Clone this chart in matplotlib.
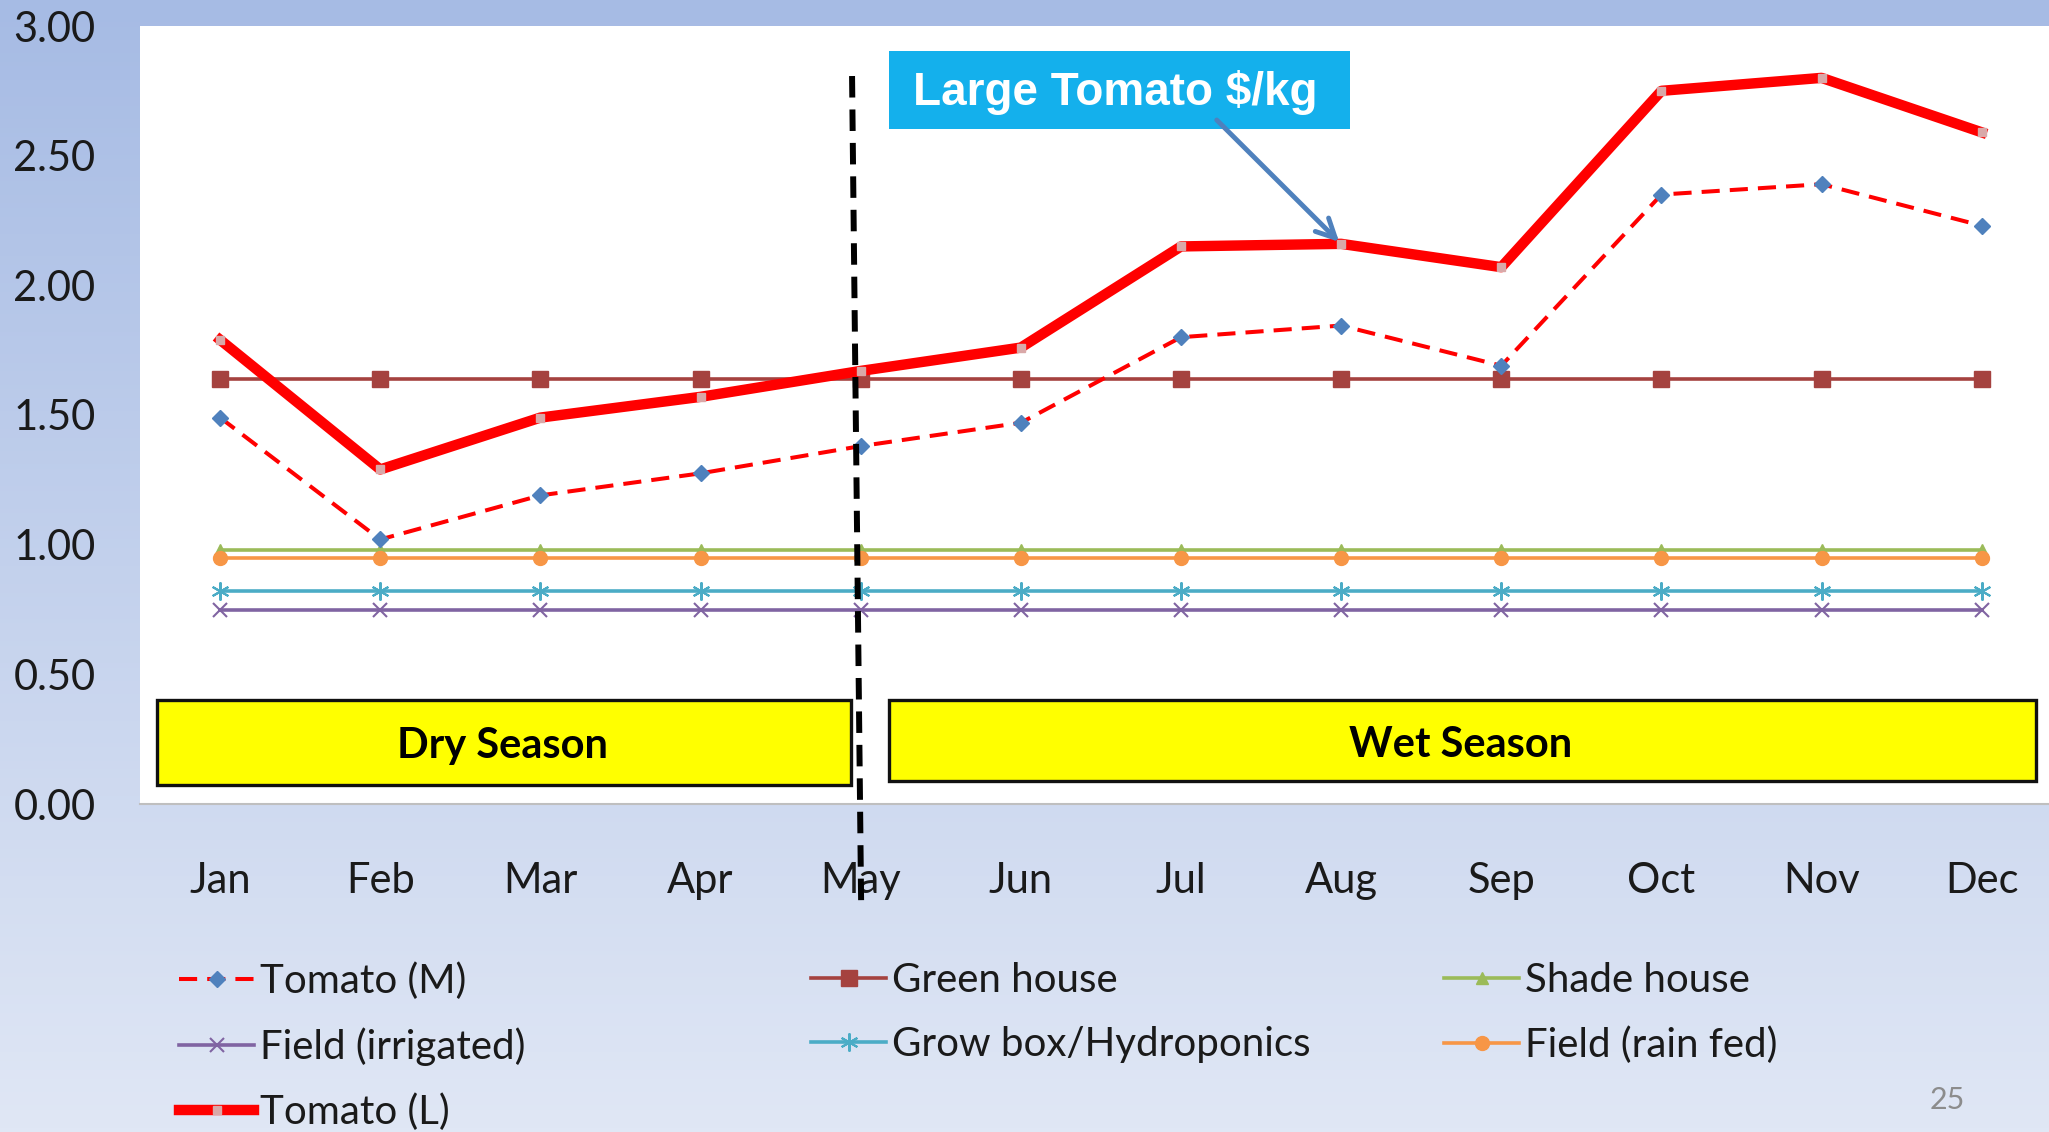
import numpy as np
import matplotlib
matplotlib.use("Agg")
import matplotlib.pyplot as plt
from matplotlib.patches import Rectangle
from matplotlib.lines import Line2D

plt.rcParams['font.family'] = ['Lato', 'DejaVu Sans']

months = ["Jan", "Feb", "Mar", "Apr", "May", "Jun", "Jul", "Aug", "Sep", "Oct", "Nov", "Dec"]
tomato_m = [1.49, 1.02, 1.19, 1.275, 1.38, 1.47, 1.80, 1.845, 1.69, 2.35, 2.39, 2.23]
tomato_l = [1.79, 1.29, 1.49, 1.57, 1.67, 1.76, 2.15, 2.16, 2.07, 2.75, 2.80, 2.59]
green_house = [1.64] * 12
shade_house = [0.98] * 12
field_rain_fed = [0.95] * 12
grow_box = [0.82] * 12
field_irrigated = [0.75] * 12
yticks = [0.0, 0.5, 1.0, 1.5, 2.0, 2.5, 3.0]

W, H = 2049, 1132
fig = plt.figure(figsize=(W / 100, H / 100), dpi=100)

# gradient background
bg = fig.add_axes([0, 0, 1, 1], zorder=-10)
top = np.array([166, 187, 228]) / 255
bot = np.array([224, 231, 245]) / 255
t = np.linspace(0, 1, 256)[:, None]
grad = (top[None, :] * (1 - t) + bot[None, :] * t)[:, None, :]
bg.imshow(grad, aspect='auto', extent=[0, 1, 0, 1])
bg.set_axis_off()

ax = fig.add_axes([140 / W, 1 - 804 / H, 1 - 140 / W, (804 - 26) / H])
ax.set_facecolor('white')
x = np.arange(len(months))

lw_h = 2.6
l_gh, = ax.plot(x, green_house, color='#a5423f', lw=lw_h, marker='s', ms=11, zorder=3)
l_sh, = ax.plot(x, shade_house, color='#9bbb59', lw=lw_h, marker='^', ms=9, zorder=3)
l_rf, = ax.plot(x, field_rain_fed, color='#f79646', lw=lw_h, marker='o', ms=10, zorder=3)
l_gb, = ax.plot(x, grow_box, color='#4bacc6', lw=lw_h, marker=(6, 2, 0), ms=13, mew=1.5, zorder=3)
l_fi, = ax.plot(x, field_irrigated, color='#8064a2', lw=lw_h, marker='x', ms=10, mew=1.5, zorder=3)
l_m, = ax.plot(x, tomato_m, color='#ff0000', lw=2.9, dashes=(4.5, 2.5), marker='D', ms=8.5,
               mfc='#4f81bd', mec='#4f81bd', zorder=4)
l_l, = ax.plot(x, tomato_l, color='#ff0000', lw=7.5, marker='s', ms=6,
               mfc='#d9a8a8', mec='#d9a8a8', zorder=5)

ax.set_xlim(-0.5, 11.42)
ax.set_ylim(0, 3.0)
ax.set_yticks(yticks)
ax.set_yticklabels([f"{v:.2f}" for v in yticks])
ax.set_xticks(x)
ax.set_xticklabels(months)
ax.tick_params(axis='y', length=0, pad=32, labelsize=30, labelcolor='#1a1a1a')
ax.tick_params(axis='x', length=0, pad=42, labelsize=30, labelcolor='#1a1a1a')
for s in ['top', 'right', 'left']:
    ax.spines[s].set_visible(False)
ax.spines['bottom'].set_color('#bfbfbf')
ax.spines['bottom'].set_linewidth(1.5)

# season boxes
ax.add_patch(Rectangle((0.0089, 0.0244), 0.3724 - 0.0089, 0.1337 - 0.0244, transform=ax.transAxes,
                       facecolor='#ffff00', edgecolor='#111111', lw=2.4, zorder=6, clip_on=False))
ax.add_patch(Rectangle((0.3924, 0.0296), 0.9932 - 0.3924, 0.1337 - 0.0296, transform=ax.transAxes,
                       facecolor='#ffff00', edgecolor='#111111', lw=2.4, zorder=6, clip_on=False))
ax.text(0.190, 0.074, "Dry Season", transform=ax.transAxes, ha='center', va='center',
        fontsize=30, fontweight='bold', color='black', zorder=7)
ax.text(0.692, 0.076, "Wet Season", transform=ax.transAxes, ha='center', va='center',
        fontsize=30, fontweight='bold', color='black', zorder=7)

# vertical dashed divider
ax.add_line(Line2D([0.3730, 0.3778], [0.9357, -0.1375], transform=ax.transAxes, color='black',
                   lw=4.3, dashes=(3.6, 2.0), zorder=8, clip_on=False))

# label box and arrow
ax.add_patch(Rectangle((0.3924, 0.8676), 0.6339 - 0.3924, 0.9679 - 0.8676, transform=ax.transAxes,
                       facecolor='#14b0ec', edgecolor='none', zorder=6))
ax.text(0.5107, 0.9145, "Large Tomato $/kg", transform=ax.transAxes, ha='center', va='center',
        fontsize=33, fontweight='bold', color='white', family=['Liberation Sans', 'DejaVu Sans'], zorder=7)
ax.annotate("", xy=(7, tomato_l[7]), xycoords='data', xytext=(0.5630, 0.8817), textcoords='axes fraction',
            arrowprops=dict(arrowstyle='->', color='#4f81bd', lw=3.5, mutation_scale=34), zorder=7)

# legends (3 columns, row-wise like Excel)
cols = [([l_m, l_fi, l_l], ["Tomato (M)", "Field (irrigated)", "Tomato (L)"], 179),
        ([l_gh, l_gb], ["Green house", "Grow box/Hydroponics"], 811),
        ([l_sh, l_rf], ["Shade house", "Field (rain fed)"], 1444)]
for hs, ls, px in cols:
    leg = fig.legend(hs, ls, loc='upper left', bbox_to_anchor=(px / W, 1 - 962 / H),
                     bbox_transform=fig.transFigure, frameon=False, fontsize=29,
                     handlelength=1.87, handletextpad=0.15, labelspacing=0.68,
                     borderpad=0, borderaxespad=0, numpoints=1, labelcolor='#1a1a1a')

fig.text(1947 / W, 1 - 1100 / H, "25", ha='center', va='center', fontsize=22, color='#8c8c8c')

fig.savefig("out.png", dpi=100)
